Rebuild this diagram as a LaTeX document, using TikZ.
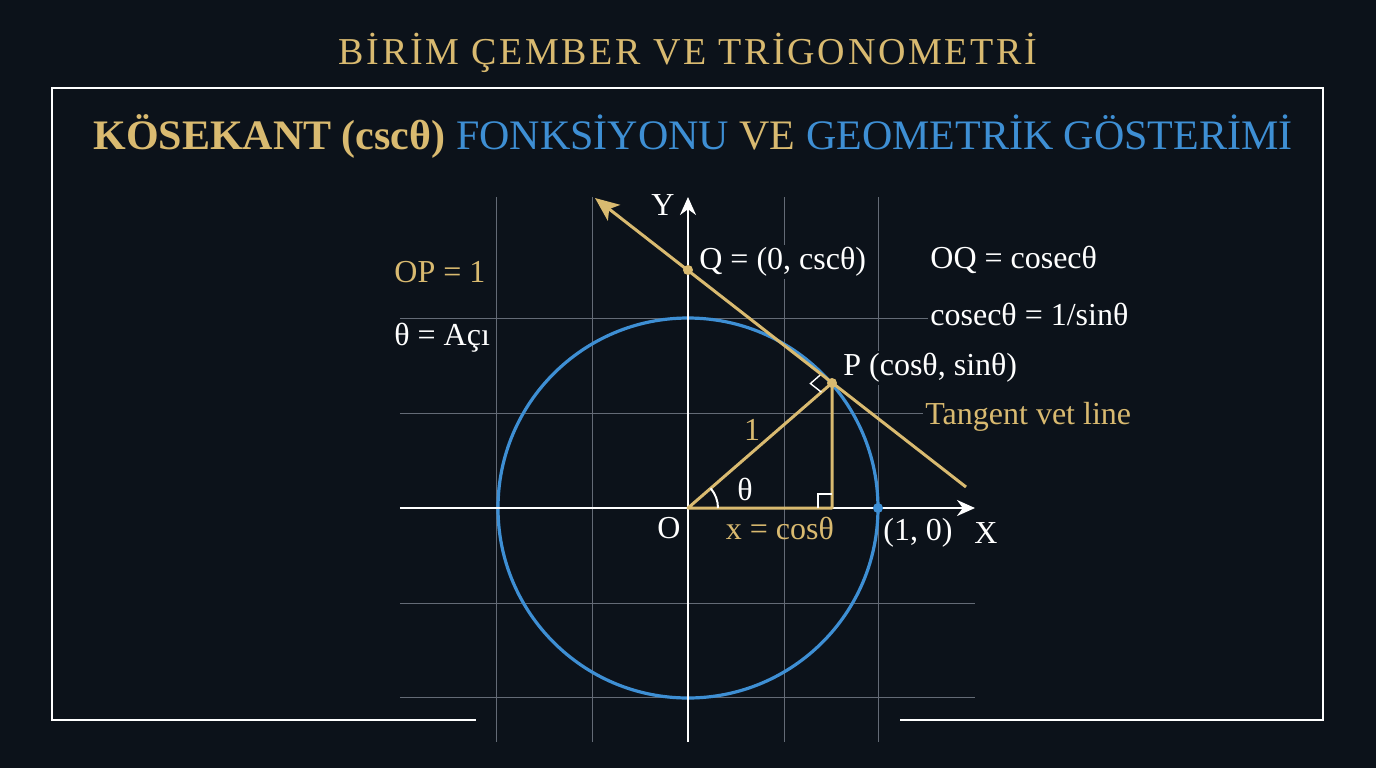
\documentclass[tikz,border=0pt]{standalone}
\usepackage{fontspec}
\setmainfont{Liberation Serif}
\usetikzlibrary{arrows.meta,calc}
\definecolor{sfondo}{RGB}{12,18,26}
\definecolor{oro}{RGB}{217,186,112}
\definecolor{blu}{RGB}{62,143,212}
\definecolor{griglia}{RGB}{100,107,118}
\tikzset{
  griglia/.style={draw=griglia, line width=0.5pt},
  asse/.style={draw=white, line width=1.1pt, -{Stealth[length=9pt,width=8pt]}},
  oroline/.style={draw=oro, line width=1.5pt},
  lbl/.style={fill=sfondo, inner sep=1pt, anchor=west, text=white,
    font=\fontsize{16}{18}\selectfont},
  etich/.style={text=white, inner sep=0pt, font=\fontsize{16}{18}\selectfont}
}
\begin{document}
\begin{tikzpicture}[x=0.5pt,y=0.5pt]
\useasboundingbox[fill=sfondo] (-688,-260) rectangle (688,508);
% titolo
   \node[text=oro, font=\fontsize{19}{22}\selectfont\addfontfeatures{LetterSpace=7}]
   (titolo) at (0,455) {BİRİM ÇEMBER VE TRİGONOMETRİ};
% cornice
   \draw[white, line width=1.2pt] (-212,-212) -- (-636,-212) -- (-636,420)
   -- (635,420) -- (635,-212) -- (212,-212);
   \node[font=\fontsize{21}{25}\selectfont] (testata) at (5,372)
   {\textcolor{oro}{\bfseries KÖSEKANT (cscθ)} \textcolor{blu}{FONKSİYONU}
   \textcolor{oro}{VE} \textcolor{blu}{GEOMETRİK GÖSTERİMİ}};
% griglia
   \foreach \x in {-191,-95,96,190} \draw[griglia] (\x,-234) -- (\x,311);
   \foreach \y in {190,95,-95,-189} \draw[griglia] (-288,\y) -- (287,\y);
% punti
   \coordinate (O) at (0,0); \coordinate (P) at (144,125);
   \coordinate (Q) at (0,238); \coordinate (F) at (144,0);
   \coordinate (A) at (190,0);
   \coordinate (T1) at (278,21); \coordinate (T2) at (-93,310);
% etichette
   \node[lbl] (lQ) at (9,246) {Q = (0, cscθ)};
   \node[lbl] (lP) at (153,140) {P (cosθ, sinθ)};
   \node[lbl] (lOQ) at (240,248) {OQ = cosecθ};
   \node[lbl] (lcsc) at (240,194) {cosecθ = 1/sinθ};
   \node[lbl, text=oro] (ltan) at (235,91) {Tangent vet line};
   \node[lbl, text=oro] (lOP) at (-296,236) {OP = 1};
   \node[lbl] (lang) at (-296,170) {θ = Açı};
% cerchio
   \draw[blu, line width=1.6pt] (O) circle[radius=190];
% assi
   \draw[asse] (-288,0) -- (287,0);
   \draw[asse] (0,-234) -- (0,311);
   \node[etich] (lX) at (298,-25) {X}; \node[etich] (lY) at (-25,303) {Y};
   \node[etich] (lO) at (-19,-20) {O}; \node[etich] (lA) at (230,-25) {(1, 0)};
% triangolo
   \draw[oroline, line join=round] (O) -- (P) -- (F) -- cycle;
   \draw[white, line width=0.7pt] (F) ++(-14,0) -- ++(0,14) -- ++(14,0);
   \draw[white, line width=1pt] (30,0) arc[start angle=0, end angle=41, radius=30];
   \node[etich] (lth) at (57,19) {θ};
   \node[etich, text=oro] (l1) at (64,78) {1};
   \node[etich, text=oro] (lx) at (92,-20) {x = cosθ};
% tangente
   \coordinate (m1) at ($(P)!7pt!(Q)$); \coordinate (m2) at ($(P)!7pt!(O)$);
   \draw[white, line width=0.7pt] (m1) -- ($(m1)+(m2)-(P)$) -- (m2);
   \draw[oroline, -{Stealth[length=12pt,width=10pt,inset=3pt]}] (T1) -- (T2);
   \fill[oro] (P) circle[radius=5]; \fill[oro] (Q) circle[radius=5];
   \fill[blu] (A) circle[radius=5];
\end{tikzpicture}
\end{document}
